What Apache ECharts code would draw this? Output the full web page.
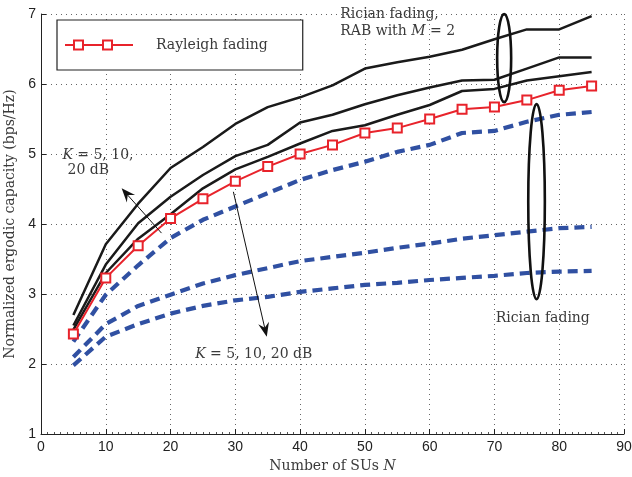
<!DOCTYPE html>
<html><head><meta charset="utf-8">
<script src="https://cdn.jsdelivr.net/npm/echarts@6/dist/echarts.min.js"></script>
<style>html,body{margin:0;padding:0;background:#fff}#c{width:632px;height:477px}</style>
</head><body><div id="c"></div>
<script>
// ---- data ----
const suCounts = [5,10,15,20,25,30,35,40,45,50,55,60,65,70,75,80,85];
const ricianRabK20 = [2.70,3.71,4.29,4.80,5.10,5.43,5.67,5.81,5.98,6.22,6.31,6.39,6.49,6.64,6.78,6.78,6.97];
const ricianRabK10 = [2.55,3.42,4.01,4.39,4.70,4.97,5.13,5.45,5.56,5.71,5.84,5.95,6.05,6.06,6.22,6.38,6.38];
const ricianRabK5  = [2.49,3.30,3.79,4.14,4.51,4.78,4.96,5.15,5.33,5.41,5.56,5.70,5.90,5.93,6.05,6.11,6.17];
const rayleigh     = [2.43,3.23,3.69,4.08,4.36,4.61,4.82,5.00,5.13,5.30,5.37,5.50,5.64,5.67,5.77,5.91,5.97];
const ricianK5     = [2.32,2.99,3.41,3.80,4.06,4.25,4.44,4.63,4.77,4.89,5.03,5.13,5.30,5.33,5.46,5.56,5.60];
const ricianK10    = [2.10,2.57,2.83,2.99,3.15,3.27,3.37,3.47,3.53,3.59,3.66,3.72,3.79,3.84,3.89,3.94,3.96];
const ricianK20    = [1.98,2.39,2.57,2.72,2.83,2.91,2.96,3.03,3.08,3.13,3.16,3.20,3.23,3.26,3.30,3.32,3.33];
const xRange = {min:0, max:90, interval:10};
const yRange = {min:1, max:7, interval:1};

const SERIF = '"DejaVu Serif", "Liberation Serif", serif';
const SANS = '"Liberation Sans", Arial, sans-serif';
const BLACK = '#1a1a1a', BLUE = '#3050a2', RED = '#e8232b', TXT = '#3a3a3a';

const pairs = arr => suCounts.map((n,i)=>[n,arr[i]]);
const chart = echarts.init(document.getElementById('c'));

const blackSeries = (name, arr) => ({name, type:'line', data:pairs(arr), symbol:'none', animation:false,
  lineStyle:{color:BLACK, width:2.5}, z:3});
const blueSeries = (name, arr) => ({name, type:'line', data:pairs(arr), symbol:'none', animation:false,
  lineStyle:{color:BLUE, width:4.2, type:[10,6]}, z:2});

chart.setOption({
  animation:false,
  backgroundColor:'#fff',
  grid:{left:41, right:8, top:14, bottom:43, containLabel:false, outerBoundsMode:'none'},
  xAxis:{type:'value', min:xRange.min, max:xRange.max, interval:xRange.interval,
    axisLine:{show:true, onZero:false, lineStyle:{color:'#222', width:1}},
    axisTick:{show:true, inside:true, length:5, lineStyle:{color:'#222'}},
    minorTick:{show:true, splitNumber:10, length:2, lineStyle:{color:'#555'}},
    axisLabel:{color:'#222', fontFamily:SANS, fontSize:14, margin:6},
    splitLine:{show:true, lineStyle:{color:'#666', width:1, type:[1,4]}},
    name:'Number of SUs {i|N}', nameLocation:'middle', nameGap:24,
    nameTextStyle:{color:TXT, fontFamily:SERIF, fontSize:14, verticalAlign:'top',
      rich:{i:{fontStyle:'italic', fontFamily:SERIF, fontSize:14, color:TXT}}}
  },
  yAxis:{type:'value', min:yRange.min, max:yRange.max, interval:yRange.interval,
    axisLine:{show:true, lineStyle:{color:'#222', width:1}},
    axisTick:{show:true, inside:true, length:5, lineStyle:{color:'#222'}},
    axisLabel:{color:'#222', fontFamily:SANS, fontSize:14, margin:5},
    splitLine:{show:true, lineStyle:{color:'#666', width:1, type:[1,4]}},
    name:'Normalized ergodic capacity (bps/Hz)', nameLocation:'middle', nameGap:21,
    nameTextStyle:{color:TXT, fontFamily:SERIF, fontSize:14}
  },
  legend:{data:['Rayleigh fading'], left:57, top:20, orient:'horizontal',
    padding:[18,35,18,8], itemWidth:68, itemHeight:14,
    borderColor:'#222', borderWidth:1.2, backgroundColor:'#fff',
    itemStyle:{opacity:0}, lineStyle:{opacity:0},
    textStyle:{color:TXT, fontFamily:SERIF, fontSize:14, padding:[0,0,0,17]}, selectedMode:false},
  series:[
    blueSeries('Rician K=5', ricianK5),
    blueSeries('Rician K=10', ricianK10),
    blueSeries('Rician K=20', ricianK20),
    blackSeries('RAB K=20', ricianRabK20),
    blackSeries('RAB K=10', ricianRabK10),
    blackSeries('RAB K=5', ricianRabK5),
    {name:'Rayleigh fading', type:'line', data:pairs(rayleigh), animation:false, z:4,
      symbol:'rect', symbolSize:9, showAllSymbol:true,
      lineStyle:{color:RED, width:2}, itemStyle:{color:'#fff', borderColor:RED, borderWidth:2}}
  ]
});

// ---- annotations (anchored in data coordinates) ----
const px = (x,y) => chart.convertToPixel({gridIndex:0}, [x,y]);
function arrow(from, to, L, W, lw){
  const a = px(from[0],from[1]), b = px(to[0],to[1]);
  const dx=b[0]-a[0], dy=b[1]-a[1], len=Math.hypot(dx,dy), ux=dx/len, uy=dy/len, nx=-uy, ny=ux;
  const base=[b[0]-ux*L, b[1]-uy*L];
  return [
    {type:'line', shape:{x1:a[0],y1:a[1],x2:b[0]-ux*L*0.6,y2:b[1]-uy*L*0.6}, style:{stroke:'#111', lineWidth:lw}, z:10},
    {type:'polygon', shape:{points:[b,[base[0]+nx*W/2,base[1]+ny*W/2],[b[0]-ux*L*0.65,b[1]-uy*L*0.65],[base[0]-nx*W/2,base[1]-ny*W/2]]},
      style:{fill:'#111'}, z:10}
  ];
}
function ell(cx,cy,rx,ry){
  const c = px(cx,cy);
  return {type:'ellipse', shape:{cx:c[0], cy:c[1], rx, ry}, style:{fill:null, stroke:'#111', lineWidth:2.6}, z:10};
}
function txt(x,y,text,align){
  const p = px(x,y);
  return {type:'text', x:p[0], y:p[1], z:10, style:{text, fill:TXT, font:'14px '+SERIF, align:align||'left', verticalAlign:'middle',
    rich:{i:{fontStyle:'italic', font:'italic 14px '+SERIF, fill:TXT}}}};
}
const legIconY = 20+18+7;
const graphics = [
  ell(71.5, 6.37, 7, 44),
  ell(76.5, 4.32, 8.3, 97.5),
  ...arrow([18.6,3.87],[12.45,4.51], 14, 11, 1),
  ...arrow([29.7,4.46],[34.85,2.39], 14, 11, 1),
  txt(3.3, 4.98, '{i|K} = 5, 10,'),
  txt(4.1, 4.77, '20 dB'),
  txt(46.2, 6.99, 'Rician fading,'),
  txt(46.2, 6.75, 'RAB with {i|M} = 2'),
  txt(23.8, 2.14, '{i|K} = 5, 10, 20 dB'),
  txt(70.2, 2.65, 'Rician fading'),
  {type:'line', shape:{x1:65, y1:legIconY, x2:133, y2:legIconY}, style:{stroke:RED, lineWidth:2}, z:20},
  {type:'rect', shape:{x:78.5-4.5, y:legIconY-4.5, width:9, height:9}, style:{fill:'#fff', stroke:RED, lineWidth:2}, z:21},
  {type:'rect', shape:{x:107.5-4.5, y:legIconY-4.5, width:9, height:9}, style:{fill:'#fff', stroke:RED, lineWidth:2}, z:21}
];
chart.setOption({graphic:graphics});
</script></body></html>
